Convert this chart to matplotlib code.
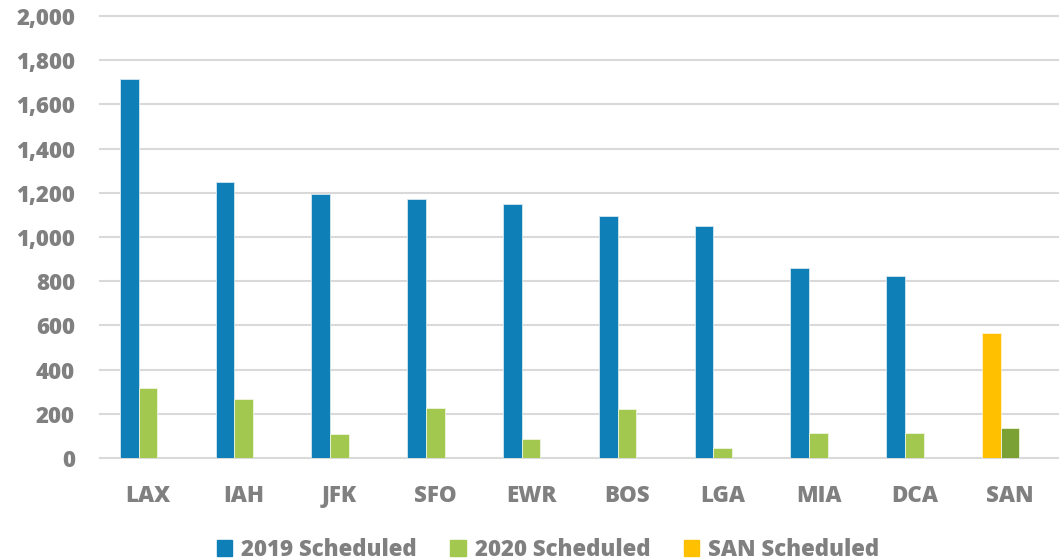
import matplotlib
matplotlib.use("Agg")
import matplotlib.pyplot as plt
from matplotlib.patches import Patch
import numpy as np

airports = ["LAX", "IAH", "JFK", "SFO", "EWR", "BOS", "LGA", "MIA", "DCA", "SAN"]
sched_2019 = [1716, 1247, 1195, 1172, 1148, 1095, 1048, 858, 822, np.nan]
sched_2020 = [315, 267, 109, 225, 86, 220, 44, 115, 115, 136]
san_2019 = [np.nan, np.nan, np.nan, np.nan, np.nan, np.nan, np.nan, np.nan, np.nan, 566]
yticks = [0, 200, 400, 600, 800, 1000, 1200, 1400, 1600, 1800, 2000]
legend_labels = ["2019 Scheduled", "2020 Scheduled", "SAN Scheduled"]

c_blue = "#0F7FB8"
c_green = "#A3C850"
c_yellow = "#FFC000"
c_dkgreen = "#7BA033"
c_text = "#808080"

plt.rcParams["font.family"] = ["Open Sans", "DejaVu Sans"]

fig = plt.figure(figsize=(10.59, 5.60), dpi=100)
ax = fig.add_axes([100/1059, (560-458)/560, (1058-100)/1059, (458-16)/560])

x = np.arange(len(airports))
w = 0.195
# three-slot clusters (third slot = SAN Scheduled series, empty at every airport)
ax.bar(x - w, sched_2019, w, color=c_blue, edgecolor="#d6e6f0", linewidth=0.6, zorder=3)
ax.bar(x - w, san_2019, w, color=c_yellow, edgecolor="#fff2cc", linewidth=0.6, zorder=3)
colors2020 = [c_green] * (len(airports) - 1) + [c_dkgreen]
ax.bar(x, sched_2020, w, color=colors2020, edgecolor="#eef5e0", linewidth=0.6, zorder=3)

ax.set_ylim(0, 2000)
ax.set_xlim(-0.5, 9.5)
ax.set_yticks(yticks)
ax.set_yticklabels([f"{v:,}" for v in yticks])
ax.set_xticks(x)
ax.set_xticklabels(airports)
for s in ax.spines.values():
    s.set_visible(False)
ax.tick_params(axis="both", length=0, labelsize=16, labelcolor=c_text)
ax.tick_params(axis="y", pad=18)
ax.tick_params(axis="x", pad=19)
for lab in ax.get_xticklabels() + ax.get_yticklabels():
    lab.set_fontweight(800)
ax.yaxis.grid(True, color="#d9d9d9", linewidth=1.5, zorder=0)
for gl in ax.yaxis.get_gridlines():
    gl.set_clip_on(False)
ax.set_axisbelow(True)

handles = [Patch(color=c_blue), Patch(color=c_green), Patch(color=c_yellow)]
leg = fig.legend(handles, legend_labels, loc="center", ncol=3,
                 bbox_to_anchor=(548/1059, (560-550)/560), frameon=False,
                 prop={"size": 16, "weight": 800}, handlelength=0.7, handleheight=0.7,
                 handletextpad=0.4, columnspacing=1.5)
for t in leg.get_texts():
    t.set_color(c_text)

fig.savefig("out.png", dpi=100)
